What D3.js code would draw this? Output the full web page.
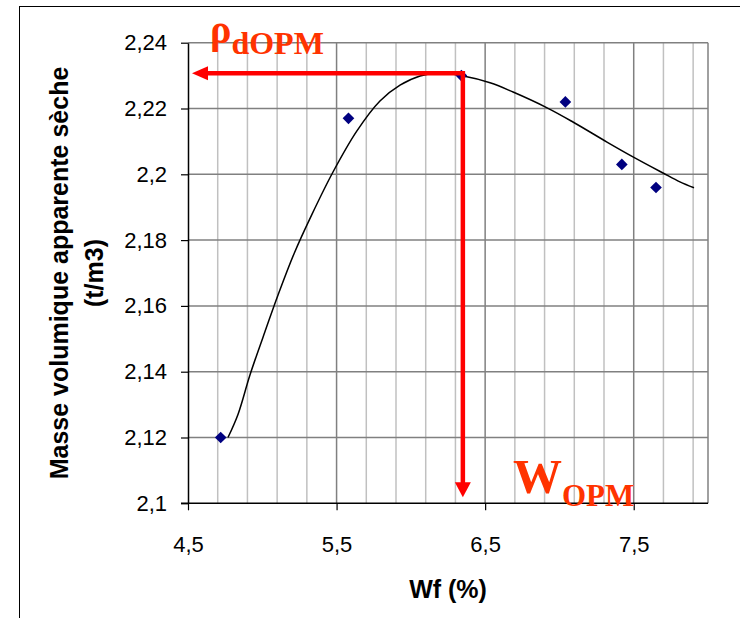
<!DOCTYPE html>
<html>
<head>
<meta charset="utf-8">
<script src="https://cdn.jsdelivr.net/npm/d3@7"></script>
<style>
  html, body { margin: 0; padding: 0; background: #fff; }
  svg { display: block; }
  .tick text { font-family: "Liberation Sans", Arial, sans-serif; font-size: 22px; fill: #000; }
  .axis-title { font-family: "Liberation Sans", Arial, sans-serif; font-size: 25px; font-weight: bold; fill: #000; }
  .note { font-family: "Liberation Serif", "Times New Roman", serif; font-weight: bold; fill: #ff3300; }
</style>
</head>
<body>
<div id="chart"></div>
<script>
/* Measured points: water content (%) and dry density (t/m3) */
const wf = [4.72, 5.58, 6.34, 7.04, 7.42, 7.65];
const density = [2.120, 2.217, 2.230, 2.222, 2.203, 2.196];

/* Fitted curve */
const curveWf = [4.769, 4.837, 4.917, 5.005, 5.106, 5.213, 5.335, 5.476, 5.637, 5.792,
  5.927, 6.062, 6.196, 6.338, 6.533, 6.688, 6.917, 7.091, 7.320, 7.495, 7.697, 7.811, 7.906];
const curveDensity = [2.1200, 2.1271, 2.1390, 2.1505, 2.1633, 2.1758, 2.1879, 2.2007, 2.2132, 2.2223,
  2.2271, 2.2299, 2.2308, 2.2300, 2.2278, 2.2250, 2.2202, 2.2159, 2.2098, 2.2053, 2.2004, 2.1977, 2.1959];

/* Optimum read on the graph */
const wOpm = 6.35;
const rhoOpm = 2.2307;

/* Axis ticks */
const xTicks = [4.5, 5.5, 6.5, 7.5];
const xTickLabels = ['4,5', '5,5', '6,5', '7,5'];
const yTicks = [2.1, 2.12, 2.14, 2.16, 2.18, 2.2, 2.22, 2.24];
const yTickLabels = ['2,1', '2,12', '2,14', '2,16', '2,18', '2,2', '2,22', '2,24'];

const width = 740;
const height = 618;
const margin = {top: 42.7, right: 32, bottom: 114.7, left: 188};
const innerW = width - margin.left - margin.right;
const innerH = height - margin.top - margin.bottom;

const svg = d3.select('#chart')
    .append('svg')
    .attr('width', width)
    .attr('height', height);

/* Outer frame */
svg.append('rect')
    .attr('x', 19.5)
    .attr('y', 6.5)
    .attr('width', width)
    .attr('height', height)
    .attr('fill', 'none')
    .attr('stroke', '#000')
    .attr('stroke-width', 1);

const plot = svg.append('g')
    .attr('transform', `translate(${margin.left},${margin.top})`);

const x = d3.scaleLinear().domain([4.5, 8.0]).range([0, innerW]);
const y = d3.scaleLinear().domain([2.1, 2.24]).range([innerH, 0]);

/* Grid lines */
let gridD3 = plot.append('g').attr('class', 'grid-lines');
let minorX = d3.range(4.7, 8.0, 0.2).filter(v => !xTicks.some(t => Math.abs(t - v) < 1e-6));
gridD3.selectAll('line.x-minor')
    .data(minorX)
    .join('line')
    .attr('class', 'x-minor')
    .attr('x1', d => x(d)).attr('x2', d => x(d))
    .attr('y1', 0).attr('y2', innerH)
    .attr('stroke', '#c0c0c0')
    .attr('stroke-width', 1.5);
gridD3.selectAll('line.x-major')
    .data(xTicks.slice(1))
    .join('line')
    .attr('class', 'x-major')
    .attr('x1', d => x(d)).attr('x2', d => x(d))
    .attr('y1', 0).attr('y2', innerH)
    .attr('stroke', '#808080')
    .attr('stroke-width', 1.5);
gridD3.selectAll('line.y-major')
    .data(yTicks.slice(1))
    .join('line')
    .attr('class', 'y-major')
    .attr('x1', 0).attr('x2', innerW)
    .attr('y1', d => y(d)).attr('y2', d => y(d))
    .attr('stroke', '#808080')
    .attr('stroke-width', 1.5);
/* right border */
gridD3.append('line')
    .attr('x1', innerW).attr('x2', innerW)
    .attr('y1', 0).attr('y2', innerH)
    .attr('stroke', '#808080')
    .attr('stroke-width', 1.5);

/* Axes */
let xAxisD3 = plot.append('g')
    .attr('class', 'x-axis')
    .attr('transform', `translate(0,${innerH})`)
    .call(d3.axisBottom(x)
        .tickValues(xTicks)
        .tickFormat((d, i) => xTickLabels[i])
        .tickSize(7)
        .tickSizeOuter(0)
        .tickPadding(26));
let yAxisD3 = plot.append('g')
    .attr('class', 'y-axis')
    .call(d3.axisLeft(y)
        .tickValues(yTicks)
        .tickFormat((d, i) => yTickLabels[i])
        .tickSize(7)
        .tickSizeOuter(0)
        .tickPadding(14));
for (let axisD3 of [xAxisD3, yAxisD3]) {
  axisD3.select('.domain').attr('stroke', '#000').attr('stroke-width', 1.5);
  axisD3.selectAll('.tick line').attr('stroke', '#000').attr('stroke-width', 1.2);
  axisD3.selectAll('.tick text').attr('font-family', null).attr('font-size', null);
}
xAxisD3.select('.domain').attr('d', `M-7,0H${innerW}`);

/* Axis titles */
svg.append('text')
    .attr('class', 'axis-title')
    .attr('x', margin.left + innerW / 2)
    .attr('y', 598)
    .attr('text-anchor', 'middle')
    .text('Wf (%)');
let yLabelD3 = svg.append('text')
    .attr('class', 'axis-title')
    .attr('text-anchor', 'middle')
    .attr('transform', `translate(68,${margin.top + innerH / 2}) rotate(-90)`);
yLabelD3.append('tspan').attr('x', 0).attr('y', 0).text('Masse volumique apparente sèche');
yLabelD3.append('tspan').attr('x', 0).attr('y', 35).text('(t/m3)');

/* Fitted curve */
let lineGen = d3.line()
    .x((d, i) => x(curveWf[i]))
    .y(d => y(d))
    .curve(d3.curveCatmullRom.alpha(0.5));
plot.append('path')
    .datum(curveDensity)
    .attr('d', lineGen)
    .attr('fill', 'none')
    .attr('stroke', '#000')
    .attr('stroke-width', 1.5);

/* Data points */
plot.selectAll('path.point')
    .data(wf)
    .join('path')
    .attr('class', 'point')
    .attr('d', d3.symbol(d3.symbolSquare, 68))
    .attr('transform', (d, i) => `translate(${x(d)},${y(density[i])}) rotate(45)`)
    .attr('fill', '#000080');

/* Optimum arrows */
let arrowD3 = plot.append('g').attr('class', 'optimum');
let red = '#ff0000';
let xo = x(wOpm);
let yo = y(rhoOpm);
let tipLeft = x(4.5) + 4;
let tipDown = innerH - 6;
arrowD3.append('path')
    .attr('d', `M${xo},${yo}H${tipLeft + 14}`)
    .attr('stroke', red).attr('stroke-width', 4.5).attr('fill', 'none');
arrowD3.append('path')
    .attr('d', `M${tipLeft},${yo}L${tipLeft + 16},${yo - 7}L${tipLeft + 16},${yo + 7}Z`)
    .attr('fill', red);
arrowD3.append('path')
    .attr('d', `M${xo},${yo - 2.25}V${tipDown - 14}`)
    .attr('stroke', red).attr('stroke-width', 4.5).attr('fill', 'none');
arrowD3.append('path')
    .attr('d', `M${xo},${tipDown}L${xo - 8},${tipDown - 15}L${xo + 8},${tipDown - 15}Z`)
    .attr('fill', red);

/* Annotation labels */
let rhoD3 = svg.append('text').attr('class', 'note').attr('x', 210).attr('y', 43);
rhoD3.append('tspan').attr('font-size', 40).text('ρ');
rhoD3.append('tspan').attr('font-size', 32).attr('dy', 11).text('dOPM');
let wD3 = svg.append('text').attr('class', 'note').attr('x', 513).attr('y', 493);
wD3.append('tspan').attr('font-size', 49).text('W');
wD3.append('tspan').attr('font-size', 31).attr('dy', 13).text('OPM');
</script>
</body>
</html>
